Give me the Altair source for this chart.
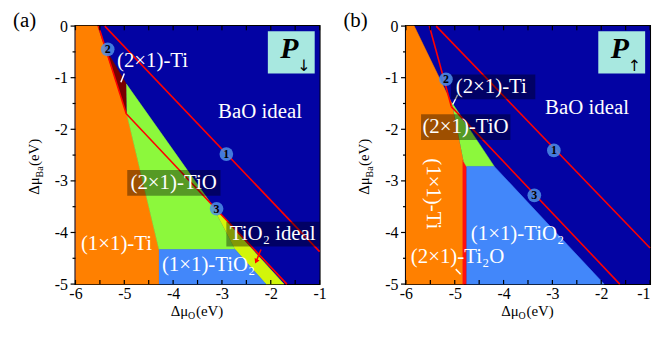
import altair as alt
import pandas as pd

FONT = "Liberation Serif"

X_DOMAIN = [-6, -1]
Y_DOMAIN = [-5, 0]
X_LABELS = [-6, -5, -4, -3, -2, -1]
Y_LABELS = [0, -1, -2, -3, -4, -5]
X_MINOR = [-6, -5.5, -5, -4.5, -4, -3.5, -3, -2.5, -2, -1.5, -1]
Y_MINOR = [-0.5, -1.5, -2.5, -3.5, -4.5]

REGIONS = ["(1×1)-Ti", "(2×1)-Ti", "(2×1)-TiO", "TiO2 ideal", "(1×1)-TiO2", "(2×1)-Ti2O"]
REGION_COLORS = ["#ff8000", "#780000", "#8cf83c", "#d2f50a", "#4287fa", "#ff1010"]
BG_COLOR = "#0303a3"

# ---------------- panel (a) ----------------
A_TI11_X = [-6, -5.55, -4.95, -4.29, -4.29, -6]
A_TI11_Y = [0, 0, -1.70, -4.33, -5, -5]
A_TI21_X = [-5.38, -4.96, -4.96]
A_TI21_Y = [-0.45, -1.12, -1.70]
A_TIO21_X = [-4.96, -3.21, -2.73, -4.29, -4.95]
A_TIO21_Y = [-1.12, -3.46, -4.33, -4.33, -1.70]
A_TIO2I_X = [-3.21, -1.73, -2.10, -2.73]
A_TIO2I_Y = [-3.46, -5, -5, -4.33]
A_TIO211_X = [-4.29, -2.73, -2.10, -4.29]
A_TIO211_Y = [-4.33, -4.33, -5, -5]

A_LINE1_X = [-5.40, -1.0]
A_LINE1_Y = [0, -4.37]
A_LINE2_X = [-5.53, -4.96]
A_LINE2_Y = [0, -1.70]
A_LINE3_X = [-4.96, -1.67]
A_LINE3_Y = [-1.70, -5]

A_MARK_ID = ["1", "2", "3"]
A_MARK_X = [-2.91, -5.34, -3.11]
A_MARK_Y = [-2.48, -0.45, -3.54]

A_WHITE_ARROWS = [[(-5.00, -0.92), (-5.07, -1.09)]]
A_RED_ARROW = [(-2.20, -4.33), (-2.30, -4.56)]

A_BOX_X = [-4.94, -2.91]
A_BOX_X2 = [-3.03, -1.0]
A_BOX_Y = [-2.79, -3.79]
A_BOX_Y2 = [-3.29, -4.27]

A_TEXT = ["(2×1)-Ti", "(1×1)-TiO₂"]
A_TEXT_X = [-5.15, -4.23]
A_TEXT_Y = [-0.67, -4.63]
A_CTEXT = ["BaO ideal", "(2×1)-TiO", "TiO₂ ideal", "(1×1)-Ti"]
A_CTEXT_X = [-2.22, -3.99, -1.96, -5.16]
A_CTEXT_Y = [-1.67, -3.04, -4.03, -4.22]
A_CTEXT_ANGLE = [0, 0, 0, 0]

# ---------------- panel (b) ----------------
B_TI11_X = [-6, -5.83, -5.06, -4.82, -4.82, -6]
B_TI11_Y = [0, 0, -1.50, -2.62, -5, -5]
B_TI2O_X = [-4.84, -4.76, -4.76, -4.84]
B_TI2O_Y = [-2.60, -2.66, -5, -5]
B_TIO21_X = [-5.06, -4.19, -4.76, -4.82]
B_TIO21_Y = [-1.48, -2.72, -2.72, -2.62]
B_TIO211_X = [-4.76, -4.19, -1.94, -4.76]
B_TIO211_Y = [-2.72, -2.72, -5, -5]

B_LINE1_X = [-5.38, -1.0]
B_LINE1_Y = [0, -4.30]
B_LINE2_X = [-5.52, -5.07]
B_LINE2_Y = [0, -1.56]
B_LINE3_X = [-5.07, -1.62]
B_LINE3_Y = [-1.56, -5]

B_MARK_ID = ["1", "2", "3"]
B_MARK_X = [-2.97, -5.18, -3.37]
B_MARK_Y = [-2.41, -1.03, -3.28]

B_WHITE_ARROWS = [[(-4.94, -1.33), (-5.04, -1.52)], [(-4.98, -4.71), (-4.88, -4.81)]]

B_BOX_X = [-5.08, -5.69]
B_BOX_X2 = [-3.35, -3.86]
B_BOX_Y = [-0.94, -1.71]
B_BOX_Y2 = [-1.42, -2.21]

B_TEXT = ["(2×1)-Ti", "(1×1)-TiO₂", "(2×1)-Ti₂O"]
B_TEXT_X = [-4.98, -4.67, -5.90]
B_TEXT_Y = [-1.18, -4.03, -4.48]
B_CTEXT = ["BaO ideal", "(2×1)-TiO", "(1×1)-Ti"]
B_CTEXT_X = [-2.29, -4.78, -5.45]
B_CTEXT_Y = [-1.58, -1.96, -3.25]
B_CTEXT_ANGLE = [0, 0, 90]

xs = alt.Scale(domain=X_DOMAIN, nice=False, zero=False)
ys = alt.Scale(domain=Y_DOMAIN, nice=False, zero=False)


def make_x_axis(last_right):
    align = {"condition": {"test": "datum.value == -1", "value": "right"}, "value": "center"} \
        if last_right else "center"
    return alt.Axis(values=X_LABELS, labelExpr="'' + datum.value", ticks=False, domain=False,
                    grid=False, labelFont=FONT, labelFontSize=16, labelColor="black",
                    labelPadding=2, labelFlush=False, labelOverlap=False, labelAlign=align,
                    title=None)


y_axis = alt.Axis(values=Y_LABELS, labelExpr="'' + datum.value", ticks=False, domain=False,
                  grid=False, labelFont=FONT, labelFontSize=16, labelColor="black",
                  labelPadding=8, labelFlush=False, labelOverlap=False, title=None)
region_scale = alt.Scale(domain=REGIONS, range=REGION_COLORS)


def poly_df(polys):
    rows = []
    for name, xl, yl in polys:
        for i, (xv, yv) in enumerate(zip(xl, yl)):
            rows.append({"region": name, "i": i, "x": xv, "y": yv})
    return pd.DataFrame(rows)


def line_df(lines):
    rows = []
    for k, (xl, yl) in enumerate(lines):
        for i, (xv, yv) in enumerate(zip(xl, yl)):
            rows.append({"k": k, "i": i, "x": xv, "y": yv})
    return pd.DataFrame(rows)


def panel(tag, polys, redlines, marks, white_arrows, red_arrows, boxes, ltext, ctext, sign, x_axis):
    def X(f):
        return alt.X(f, type="quantitative", scale=xs, axis=x_axis)

    def Y(f):
        return alt.Y(f, type="quantitative", scale=ys, axis=y_axis)

    layers = []
    bg = pd.DataFrame({"x": [X_DOMAIN[0]], "x2": [X_DOMAIN[1]], "y": [Y_DOMAIN[1]], "y2": [Y_DOMAIN[0]]})
    layers.append(alt.Chart(bg).mark_rect(color=BG_COLOR).encode(
        x=X("x"), x2="x2", y=Y("y"), y2="y2"))
    layers.append(alt.Chart(poly_df(polys)).mark_line(strokeWidth=0.5).encode(
        x=X("x"), y=Y("y"),
        fill=alt.Fill("region:N", scale=region_scale, legend=None),
        stroke=alt.Stroke("region:N", scale=region_scale, legend=None),
        order="i:Q"))
    layers.append(alt.Chart(line_df(redlines)).mark_line(color="#ff0000", strokeWidth=1.6).encode(
        x=X("x"), y=Y("y"), detail="k:N", order="i:Q"))
    wa = line_df([([p[0] for p in a], [p[1] for p in a]) for a in white_arrows])
    layers.append(alt.Chart(wa).mark_line(color="white", strokeWidth=1.5).encode(
        x=X("x"), y=Y("y"), detail="k:N", order="i:Q"))
    if red_arrows:
        ra = line_df([([p[0] for p in a], [p[1] for p in a]) for a in red_arrows])
        layers.append(alt.Chart(ra).mark_line(color="#ff0000", strokeWidth=1.5).encode(
            x=X("x"), y=Y("y"), detail="k:N", order="i:Q"))
        tip = pd.DataFrame({"x": [red_arrows[0][1][0]], "y": [red_arrows[0][1][1]]})
        layers.append(alt.Chart(tip).mark_point(shape="triangle-down", filled=True, color="#ff0000",
                                                size=30, opacity=1, angle=25).encode(x=X("x"), y=Y("y")))
    bx = pd.DataFrame({"x": boxes[0], "x2": boxes[1], "y": boxes[2], "y2": boxes[3]})
    layers.append(alt.Chart(bx).mark_rect(color="black", opacity=0.38).encode(
        x=X("x"), x2="x2", y=Y("y"), y2="y2"))
    # P box
    pb = pd.DataFrame({"x": [-2.06], "x2": [-1.10], "y": [-0.10], "y2": [-0.92]})
    layers.append(alt.Chart(pb).mark_rect(color="#a8e8e0").encode(
        x=X("x"), x2="x2", y=Y("y"), y2="y2"))
    pt = pd.DataFrame({"x": [-1.62], "y": [-0.44], "t": ["P"]})
    layers.append(alt.Chart(pt).mark_text(font=FONT, fontSize=30, fontWeight="bold", fontStyle="italic",
                                          color="black").encode(x=X("x"), y=Y("y"), text="t:N"))
    at = pd.DataFrame({"x": [-1.32], "y": [-0.77], "t": [sign]})
    layers.append(alt.Chart(at).mark_text(font="DejaVu Sans", fontSize=16, color="black").encode(
        x=X("x"), y=Y("y"), text="t:N"))
    # labels
    lt = pd.DataFrame({"t": ltext[0], "x": ltext[1], "y": ltext[2]})
    layers.append(alt.Chart(lt).mark_text(font=FONT, fontSize=21, color="white", align="left",
                                          baseline="middle").encode(x=X("x"), y=Y("y"), text="t:N"))
    ct = pd.DataFrame({"t": ctext[0], "x": ctext[1], "y": ctext[2], "a": ctext[3]})
    layers.append(alt.Chart(ct).mark_text(font=FONT, fontSize=21, color="white", align="center",
                                          baseline="middle").encode(
        x=X("x"), y=Y("y"), text="t:N", angle=alt.Angle("a:Q", scale=None)))
    # markers
    mk = pd.DataFrame({"id": marks[0], "x": marks[1], "y": marks[2]})
    layers.append(alt.Chart(mk).mark_circle(size=190, color="#4d8fe6", opacity=0.85).encode(
        x=X("x"), y=Y("y")))
    layers.append(alt.Chart(mk).mark_text(font=FONT, fontSize=12, fontWeight="bold", color="black",
                                          baseline="middle").encode(x=X("x"), y=Y("y"), text="id:N"))
    # ticks
    tick_rows = []
    for v in X_MINOR:
        tick_rows.append({"x": v, "x2": v, "y": Y_DOMAIN[0], "y2": Y_DOMAIN[0] + 0.08})
        tick_rows.append({"x": v, "x2": v, "y": Y_DOMAIN[1], "y2": Y_DOMAIN[1] - 0.08})
    for v in Y_LABELS:
        tick_rows.append({"x": X_DOMAIN[0], "x2": X_DOMAIN[0] - 0.10, "y": v, "y2": v})
    for v in Y_MINOR:
        tick_rows.append({"x": X_DOMAIN[0], "x2": X_DOMAIN[0] - 0.06, "y": v, "y2": v})
    layers.append(alt.Chart(pd.DataFrame(tick_rows)).mark_rule(color="black", strokeWidth=1.2).encode(
        x=X("x"), x2="x2", y=Y("y"), y2="y2"))
    # axis titles (with subscripts)
    xt = pd.DataFrame({"x": [-4.05] * 3, "y": [-5.62] * 3, "t": ["Δμ", "O", "(eV)"],
                       "dx": [0, 17.5, 25.5], "dy": [0, 3, 0], "fs": [15, 10, 15]})
    for _, r in xt.iterrows():
        layers.append(alt.Chart(pd.DataFrame([r])).mark_text(
            font=FONT, fontSize=float(r.fs), align="left", baseline="alphabetic", color="black",
            dx=float(r.dx), dy=float(r.dy)).encode(x=X("x"), y=Y("y"), text="t:N"))
    yt = pd.DataFrame({"x": [-6.75] * 3, "y": [-3.27] * 3, "t": ["Δμ", "Ba", "(eV)"],
                       "dx": [0, 17.5, 29], "dy": [0, 4, 0], "fs": [15, 10, 15]})
    for _, r in yt.iterrows():
        layers.append(alt.Chart(pd.DataFrame([r])).mark_text(
            font=FONT, fontSize=float(r.fs), align="left", baseline="alphabetic", color="black",
            angle=270, dx=float(r.dx), dy=float(r.dy)).encode(x=X("x"), y=Y("y"), text="t:N"))
    # panel tag
    tg = pd.DataFrame({"x": [-7.28], "y": [0.30], "t": [tag]})
    layers.append(alt.Chart(tg).mark_text(font=FONT, fontSize=21, align="left", baseline="top",
                                          color="black").encode(x=X("x"), y=Y("y"), text="t:N"))
    return alt.layer(*layers).properties(width=246, height=260)


pa = panel(
    "(a)",
    [(REGIONS[0], A_TI11_X, A_TI11_Y), (REGIONS[1], A_TI21_X, A_TI21_Y),
     (REGIONS[2], A_TIO21_X, A_TIO21_Y), (REGIONS[3], A_TIO2I_X, A_TIO2I_Y),
     (REGIONS[4], A_TIO211_X, A_TIO211_Y)],
    [(A_LINE1_X, A_LINE1_Y), (A_LINE2_X, A_LINE2_Y), (A_LINE3_X, A_LINE3_Y)],
    (A_MARK_ID, A_MARK_X, A_MARK_Y),
    A_WHITE_ARROWS, [A_RED_ARROW],
    (A_BOX_X, A_BOX_X2, A_BOX_Y, A_BOX_Y2),
    (A_TEXT, A_TEXT_X, A_TEXT_Y),
    (A_CTEXT, A_CTEXT_X, A_CTEXT_Y, A_CTEXT_ANGLE),
    "↓", make_x_axis(False))

pb_ = panel(
    "(b)",
    [(REGIONS[0], B_TI11_X, B_TI11_Y), (REGIONS[5], B_TI2O_X, B_TI2O_Y),
     (REGIONS[2], B_TIO21_X, B_TIO21_Y), (REGIONS[4], B_TIO211_X, B_TIO211_Y)],
    [(B_LINE1_X, B_LINE1_Y), (B_LINE2_X, B_LINE2_Y), (B_LINE3_X, B_LINE3_Y)],
    (B_MARK_ID, B_MARK_X, B_MARK_Y),
    B_WHITE_ARROWS, [],
    (B_BOX_X, B_BOX_X2, B_BOX_Y, B_BOX_Y2),
    (B_TEXT, B_TEXT_X, B_TEXT_Y),
    (B_CTEXT, B_CTEXT_X, B_CTEXT_Y, B_CTEXT_ANGLE),
    "↑", make_x_axis(True))

chart = alt.hconcat(pa, pb_, spacing=87, bounds="flush").properties(
    padding={"left": 4, "top": 0, "right": 0, "bottom": 0}
).configure_view(stroke="black", strokeWidth=2)

chart.save("out.html", embed_options={"renderer": "svg", "actions": False})
